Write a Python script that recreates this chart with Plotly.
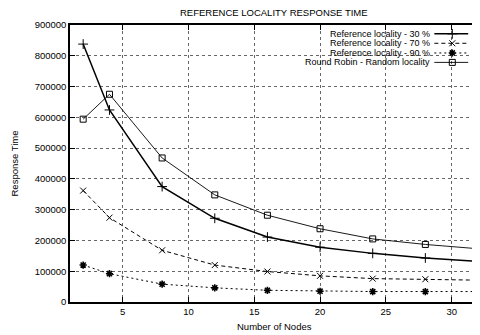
import plotly.graph_objects as go

nodes = [2, 4, 8, 12, 16, 20, 24, 28, 32]
ref30 = [838000, 624000, 375000, 272000, 211000, 178000, 158000, 143000, 132000]
ref70 = [362000, 274000, 168000, 120000, 99000, 85000, 76000, 74000, 71000]
ref90 = [120000, 92000, 58000, 46000, 38000, 35000, 34000, 34000, 34000]
rr = [594000, 675000, 468000, 348000, 282000, 238000, 205000, 187000, 173000]

names = ["Reference locality - 30 %", "Reference locality - 70 %",
         "Reference locality - 90 %", "Round Robin - Random locality"]
x_ticks = [5, 10, 15, 20, 25, 30]
y_ticks = [0, 100000, 200000, 300000, 400000, 500000, 600000, 700000, 800000, 900000]

FONT = "Liberation Sans, Arial, sans-serif"
styles = [
    dict(line=dict(color="black", width=1.5, dash="solid"),
         marker=dict(symbol="cross-thin-open", size=7, color="black", line=dict(color="black", width=1))),
    dict(line=dict(color="black", width=1, dash="4px,3px"),
         marker=dict(symbol="x-thin-open", size=6, color="black", line=dict(color="black", width=1))),
    dict(line=dict(color="black", width=1, dash="2px,3px"),
         marker=dict(symbol="asterisk-open", size=6, color="black", line=dict(color="black", width=1.6))),
    dict(line=dict(color="black", width=0.9, dash="solid"),
         marker=dict(symbol="square-open", size=6, color="black", line=dict(color="black", width=1))),
]

fig = go.Figure()
for name, ys, st in zip(names, [ref30, ref70, ref90, rr], styles):
    fig.add_trace(go.Scatter(x=nodes, y=ys, mode="lines+markers", name=name,
                             line=st["line"], marker=st["marker"], showlegend=False))

# gnuplot-style key: text right-aligned, sample to the right
row_y = [0.968, 0.934, 0.899, 0.865]
for name, yy, st in zip(names, row_y, styles):
    fig.add_trace(go.Scatter(x=[0.893, 0.976], y=[yy, yy], mode="lines", line=st["line"],
                             xaxis="x2", yaxis="y2", showlegend=False, hoverinfo="skip"))
    fig.add_trace(go.Scatter(x=[0.937], y=[yy], mode="markers", marker=st["marker"],
                             xaxis="x2", yaxis="y2", showlegend=False, hoverinfo="skip"))
    fig.add_annotation(x=0.886, y=yy, xref="x2", yref="y2", text=name, showarrow=False,
                       xanchor="right", yanchor="middle", borderpad=0,
                       font=dict(size=9, color="black", family=FONT))

axis_common = dict(showline=True, linecolor="black", linewidth=1.5, mirror="ticks",
                   ticks="inside", ticklen=5, tickcolor="black", tickwidth=1,
                   showgrid=True, gridcolor="#666666", gridwidth=1, griddash="dot",
                   zeroline=False, tickfont=dict(size=9.5, color="black", family=FONT))

# page body has an 8px margin, so the figure is 8px smaller than the window
fig.update_layout(
    width=472, height=327,
    margin=dict(l=62, r=0, t=17, b=33),
    paper_bgcolor="white", plot_bgcolor="white",
    font=dict(family=FONT, color="black"),
    xaxis=dict(range=[1, 32], tickvals=x_ticks, **axis_common),
    yaxis=dict(range=[0, 900000], tickvals=y_ticks, tickformat="d", **axis_common),
    xaxis2=dict(overlaying="x", range=[0, 1], visible=False),
    yaxis2=dict(overlaying="y", range=[0, 1], visible=False),
    annotations=list(fig.layout.annotations) + [
        dict(text="REFERENCE LOCALITY RESPONSE TIME", x=0.5, y=1, xref="paper", yref="paper",
             yshift=13, showarrow=False, xanchor="center", yanchor="middle",
             font=dict(size=9.5, color="black", family=FONT)),
        dict(text="Number of Nodes", x=0.5, y=0, xref="paper", yref="paper",
             yshift=-24, showarrow=False, xanchor="center", yanchor="middle",
             font=dict(size=9.5, color="black", family=FONT)),
        dict(text="Response Time", x=0, y=0.5, xref="paper", yref="paper",
             xshift=-56, showarrow=False, textangle=-90, xanchor="center", yanchor="middle",
             font=dict(size=9.5, color="black", family=FONT)),
    ],
)

fig.write_html("out.html")
